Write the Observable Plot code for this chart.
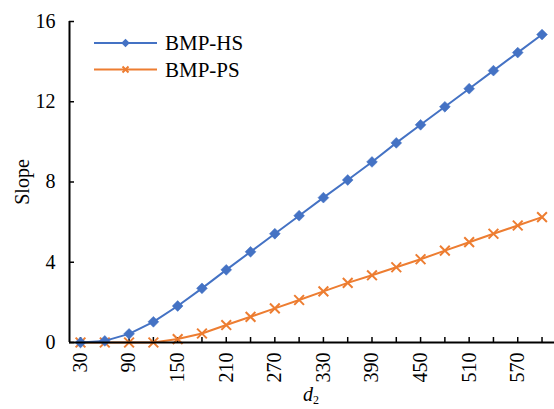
<!DOCTYPE html>
<html>
<head>
<meta charset="utf-8">
<script src="https://cdn.jsdelivr.net/npm/d3@7"></script>
<script src="https://cdn.jsdelivr.net/npm/@observablehq/plot@0.6"></script>
<style>
  html, body { margin: 0; padding: 0; background: #fff; }
  #chart svg, #chart svg text, #chart svg tspan { font-family: "Liberation Serif", "Times New Roman", serif !important; font-variant: normal !important; }
</style>
</head>
<body>
<div id="chart"></div>
<script>
const d2 = [30, 60, 90, 120, 150, 180, 210, 240, 270, 300, 330, 360, 390, 420, 450, 480, 510, 540, 570, 600];
const hs = [0, 0.08, 0.43, 1.03, 1.82, 2.7, 3.62, 4.52, 5.42, 6.32, 7.22, 8.1, 9.0, 9.95, 10.85, 11.75, 12.65, 13.55, 14.45, 15.35];
const ps = [0, 0, 0, 0, 0.17, 0.45, 0.87, 1.28, 1.7, 2.12, 2.55, 2.97, 3.35, 3.75, 4.15, 4.58, 5.0, 5.42, 5.83, 6.25];
const xTickLabels = [30, 90, 150, 210, 270, 330, 390, 450, 510, 570];
const yTicks = [0, 4, 8, 12, 16];
const seriesNames = ["BMP-HS", "BMP-PS"];
const colors = ["#4472C4", "#ED7D31"];
const xDomain = [16.4, 615.4];
const FONT = "Liberation Serif";

const rows = [];
d2.forEach((d, i) => {
  rows.push({d2: d, v: hs[i], s: seriesNames[0]});
  rows.push({d2: d, v: ps[i], s: seriesNames[1]});
});
const hsRows = rows.filter(r => r.s === seriesNames[0]);
const psRows = rows.filter(r => r.s === seriesNames[1]);

const chart = Plot.plot({
  width: 554,
  height: 409,
  marginLeft: 69,
  marginRight: 0,
  marginTop: 21,
  marginBottom: 67,
  style: {fontFamily: FONT, fontSize: "20px", color: "#000", background: "#fff"},
  x: {domain: xDomain, label: null},
  y: {domain: [0, 16], label: null},
  marks: [
    Plot.axisX(d2, {tickSize: 5, dy: -5, text: null, label: null, strokeWidth: 1.5, stroke: "#000"}),
    Plot.axisX(xTickLabels, {tickSize: 0, tickPadding: 10, tickRotate: -90, fontSize: 20, fontFamily: FONT, label: null, fill: "#000"}),
    Plot.axisY(yTicks, {tickSize: 5, dx: 5, text: null, label: null, strokeWidth: 1.5, stroke: "#000"}),
    Plot.axisY(yTicks, {tickSize: 0, tickPadding: 14, fontSize: 20, fontFamily: FONT, label: null, fill: "#000"}),
    Plot.line(psRows, {x: "d2", y: "v", stroke: colors[1], strokeWidth: 2}),
    Plot.dot(psRows, {x: "d2", y: "v", symbol: "times", r: 4.5, stroke: colors[1], strokeWidth: 2}),
    Plot.line(hsRows, {x: "d2", y: "v", stroke: colors[0], strokeWidth: 2}),
    Plot.dot(hsRows, {x: "d2", y: "v", symbol: "square", rotate: 45, r: 4.3, fill: colors[0], stroke: colors[0], strokeWidth: 0.5}),
    Plot.ruleY([0], {stroke: "#000", strokeWidth: 2}),
    Plot.ruleX([xDomain[0]], {stroke: "#000", strokeWidth: 2})
  ]
});

document.getElementById("chart").appendChild(chart);

const svg = d3.select(chart);
svg.selectAll("g[aria-label$='tick label'] text")
  .style("font-family", FONT).style("font-size", "20px").style("font-variant", "normal");

// y-axis title
svg.append("text")
  .attr("transform", "translate(29,182) rotate(-90)")
  .attr("text-anchor", "middle")
  .attr("font-size", 20)
  .attr("fill", "#000")
  .text("Slope");
// x-axis title with subscript
const xl = svg.append("text")
  .attr("x", 311).attr("y", 401)
  .attr("text-anchor", "middle")
  .attr("font-size", 20)
  .attr("fill", "#000");
xl.append("tspan").attr("font-style", "italic").text("d");
xl.append("tspan").attr("font-size", 12).attr("dy", 3).text("2");

// legend
const leg = svg.append("g");
seriesNames.forEach((name, i) => {
  const y = 43 + i * 26.5;
  const g = leg.append("g");
  g.append("line").attr("x1", 94).attr("x2", 157).attr("y1", y).attr("y2", y)
    .attr("stroke", colors[i]).attr("stroke-width", 2);
  if (i === 0) {
    g.append("rect").attr("x", -3).attr("y", -3).attr("width", 6).attr("height", 6)
      .attr("fill", colors[i])
      .attr("transform", `translate(125.5,${y}) rotate(45)`);
  } else {
    g.append("path").attr("d", "M-3,-3L3,3M-3,3L3,-3")
      .attr("stroke", colors[i]).attr("stroke-width", 2)
      .attr("transform", `translate(125.5,${y})`);
  }
  g.append("text").attr("x", 165).attr("y", y).attr("dy", "0.35em")
    .attr("text-anchor", "start")
    .attr("font-size", 21).attr("fill", "#000").text(name);
});
</script>
</body>
</html>
